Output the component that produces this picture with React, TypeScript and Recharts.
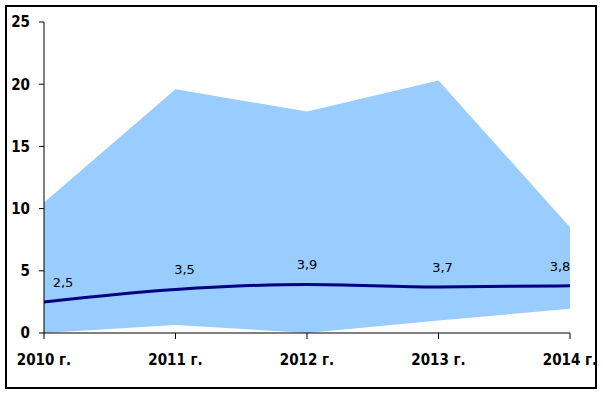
import React from "react";
import { ComposedChart, Area, Line, XAxis, YAxis, LabelList } from "recharts";

const categories = ["2010 г.", "2011 г.", "2012 г.", "2013 г.", "2014 г."];
const lowValues = [0, 0.65, 0, 1.0, 1.95];
const highValues = [10.5, 19.6, 17.8, 20.3, 8.5];
const meanValues = [2.5, 3.5, 3.9, 3.7, 3.8];
const meanLabels = ["2,5", "3,5", "3,9", "3,7", "3,8"];
const yTicks = [0, 5, 10, 15, 20, 25];

const data = categories.map((c, i) => ({
  name: c,
  band: [lowValues[i], highValues[i]],
  mean: meanValues[i],
  label: meanLabels[i],
}));

const labelDx = [19, 9, 0, 4, -10];

const renderLabel = (props: any) => {
  const { x, y, index } = props;
  return (
    <text
      x={x + labelDx[index]}
      y={y - 15}
      textAnchor="middle"
      fontFamily="'DejaVu Sans', sans-serif"
      fontSize={13}
      fill="#000"
    >
      {meanLabels[index]}
    </text>
  );
};

const tickFont = {
  fill: "#000",
  fontFamily: "'DejaVu Sans Condensed', 'Liberation Sans', sans-serif",
  fontWeight: "bold",
  fontSize: 15,
};

export default function App() {
  return (
    <div style={{ position: "absolute", left: 0, top: 0, width: 603, height: 394, background: "#fff" }}>
      <div
        style={{
          position: "absolute",
          left: 5,
          top: 5,
          width: 588,
          height: 380,
          border: "2px solid #000",
        }}
      />
      <div style={{ position: "absolute", left: 0, top: 0 }}>
        <ComposedChart
          width={603}
          height={394}
          data={data}
          margin={{ top: 22, right: 33, left: 0, bottom: 21 }}
        >
          <XAxis
            dataKey="name"
            interval={0}
            padding={{ left: 0, right: 0 }}
            scale="point"
            tickSize={6}
            tickMargin={15}
            height={40}
            stroke="#000"
            tick={tickFont}
          />
          <YAxis
            domain={[0, 25]}
            ticks={yTicks}
            width={44}
            tickSize={5}
            tickMargin={9}
            stroke="#000"
            interval={0}
            tick={tickFont}
          />
          <Area
            dataKey="band"
            type="linear"
            fill="#99CCFF"
            fillOpacity={1}
            stroke="none"
            isAnimationActive={false}
          />
          <Line
            dataKey="mean"
            type="monotone"
            stroke="#000080"
            strokeWidth={3}
            dot={false}
            isAnimationActive={false}
          >
            <LabelList dataKey="label" content={renderLabel} />
          </Line>
        </ComposedChart>
      </div>
    </div>
  );
}
